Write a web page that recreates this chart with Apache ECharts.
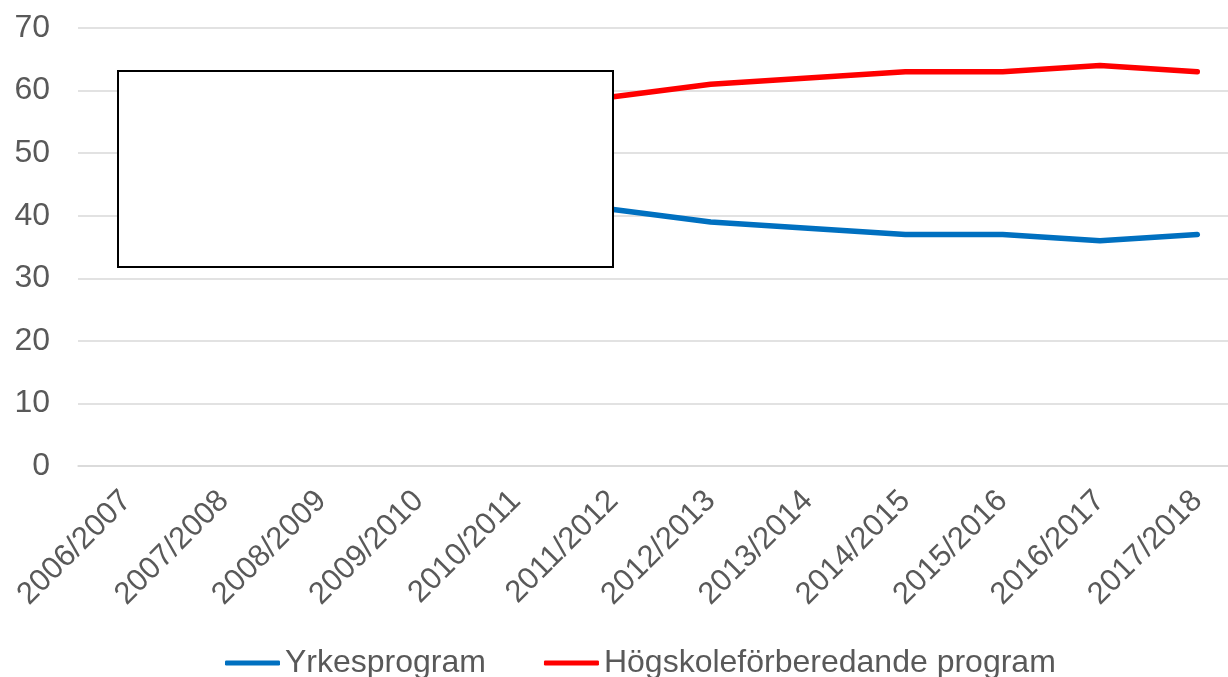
<!DOCTYPE html>
<html>
<head>
<meta charset="utf-8">
<script src="https://cdn.jsdelivr.net/npm/echarts@6/dist/echarts.min.js"></script>
<style>
  html, body { margin: 0; padding: 0; background: #fff; overflow: hidden; }
  /* plot area runs past the right edge in the original, so the canvas is a bit wider than the window */
  #chart { width: 1246px; height: 677px; }
</style>
</head>
<body>
<div id="chart"></div>
<script>
// läsår
var categories = ['2006/2007', '2007/2008', '2008/2009', '2009/2010', '2010/2011', '2011/2012',
  '2012/2013', '2013/2014', '2014/2015', '2015/2016', '2016/2017', '2017/2018'];
// first years are hidden under the white box in the picture
var yrkes = [null, null, null, null, null, 41, 39, 38, 37, 37, 36, 37];
var hogskole = [null, null, null, null, null, 59, 61, 62, 63, 63, 64, 63];
var yTicks = [0, 10, 20, 30, 40, 50, 60, 70];

var font = 'Liberation Sans, Arial, sans-serif';
var grey = '#595959';

var myChart = echarts.init(document.getElementById('chart'));

var option = {
  animation: false,
  backgroundColor: '#fff',
  grid: {
    left: 78,
    top: 28,
    right: 0,
    height: 438
  },
  legend: {
    left: 220,
    top: 642,
    itemWidth: 55,
    itemHeight: 5,
    itemGap: 58,
    icon: 'roundRect',
    textStyle: { fontFamily: font, fontSize: 32, color: grey },
    data: ['Yrkesprogram', 'Högskoleförberedande program']
  },
  xAxis: {
    type: 'category',
    data: categories,
    boundaryGap: true,
    axisLine: { lineStyle: { color: '#d9d9d9', width: 1.5 } },
    axisTick: { show: false },
    axisLabel: {
      rotate: 45,
      interval: 0,
      margin: 30,
      fontFamily: font,
      fontSize: 31,
      color: grey
    }
  },
  yAxis: {
    type: 'value',
    min: yTicks[0],
    max: yTicks[yTicks.length - 1],
    interval: 10,
    axisLine: { show: false },
    axisTick: { show: false },
    splitLine: { lineStyle: { color: '#d9d9d9', width: 1.5 } },
    axisLabel: { margin: 28, fontFamily: font, fontSize: 32, color: grey }
  },
  series: [
    {
      name: 'Yrkesprogram',
      type: 'line',
      data: yrkes,
      symbol: 'none',
      color: '#0070C0',
      lineStyle: { width: 5.5, cap: 'round', join: 'round' }
    },
    {
      name: 'Högskoleförberedande program',
      type: 'line',
      data: hogskole,
      symbol: 'none',
      color: '#FF0000',
      lineStyle: { width: 5.5, cap: 'round', join: 'round' }
    }
  ],
  // vit ruta som döljer de första åren
  graphic: [
    {
      type: 'rect',
      z: 100,
      shape: { x: 118, y: 71, width: 495, height: 196 },
      style: { fill: '#fff', stroke: '#000', lineWidth: 2 }
    }
  ]
};

myChart.setOption(option);
</script>
</body>
</html>
